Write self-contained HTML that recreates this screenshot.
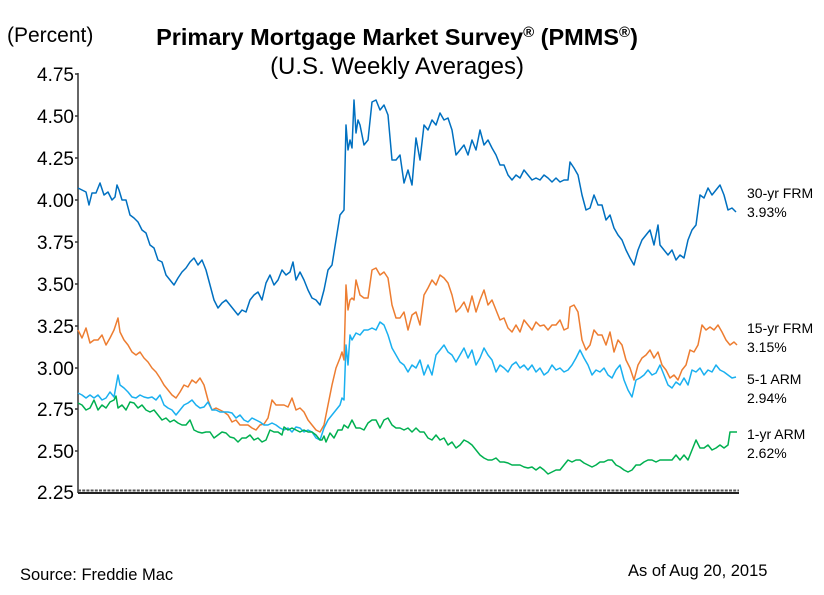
<!DOCTYPE html>
<html><head><meta charset="utf-8"><style>
body{margin:0;background:#fff;}
svg{display:block;font-family:"Liberation Sans",sans-serif;}
</style></head><body>
<svg width="824" height="595" viewBox="0 0 824 595">
<text x="7" y="42" font-size="21">(Percent)</text>
<text x="397" y="45" font-size="23.5" font-weight="bold" text-anchor="middle">Primary Mortgage Market Survey<tspan font-size="15" dy="-8">®</tspan><tspan dy="8"> (PMMS</tspan><tspan font-size="15" dy="-8">®</tspan><tspan dy="8">)</tspan></text>
<text x="397" y="74" font-size="24" text-anchor="middle">(U.S. Weekly Averages)</text>
<g font-size="19" text-anchor="end">
<text x="74" y="81">4.75</text><text x="74" y="123">4.50</text><text x="74" y="165">4.25</text><text x="74" y="207">4.00</text><text x="74" y="249">3.75</text><text x="74" y="291">3.50</text><text x="74" y="333">3.25</text><text x="74" y="375">3.00</text><text x="74" y="416">2.75</text><text x="74" y="458">2.50</text><text x="74" y="499">2.25</text>
</g>
<g stroke="#333" stroke-width="1.5">
<line x1="78" y1="73" x2="78" y2="493"/>
<line x1="75" y1="74" x2="78" y2="74"/><line x1="75" y1="116" x2="78" y2="116"/><line x1="75" y1="158" x2="78" y2="158"/><line x1="75" y1="200" x2="78" y2="200"/><line x1="75" y1="242" x2="78" y2="242"/><line x1="75" y1="284" x2="78" y2="284"/><line x1="75" y1="326" x2="78" y2="326"/><line x1="75" y1="368" x2="78" y2="368"/><line x1="75" y1="409" x2="78" y2="409"/><line x1="75" y1="451" x2="78" y2="451"/>
</g>
<line x1="78" y1="493" x2="739" y2="493" stroke="#222" stroke-width="2"/>
<line x1="78" y1="490.5" x2="739" y2="490.5" stroke="#555" stroke-width="2" stroke-dasharray="3,1.2"/>
<g fill="none" stroke-width="1.5" stroke-linejoin="round">
<polyline stroke="#0070c0" points="78,188 82,190 86,192 89,205 92,193 96,193 100,183 104,195 108,192 112,200 115,197 117,185 119,190 122,200 126,200 130,215 134,218 138,222 142,230 146,233 150,245 154,248 158,260 162,262 166,275 170,280 174,285 178,278 182,272 186,268 190,262 194,258 198,265 202,260 206,270 210,285 214,300 218,308 222,303 226,300 230,305 234,310 238,315 242,310 246,312 250,300 254,295 258,292 262,300 266,283 270,275 274,285 278,280 282,270 286,275 290,272 293,262 296,280 300,272 304,280 308,290 312,298 316,300 320,305 324,290 328,270 332,265 336,240 340,215 344,210 346,125 348,150 350,140 352,148 354,100 356,133 358,120 360,125 364,145 368,140 372,102 376,100 380,110 384,105 388,115 392,160 396,160 400,155 404,183 408,170 412,185 416,138 420,160 424,125 428,130 432,120 436,125 440,113 444,120 448,118 452,130 456,155 460,150 464,145 468,155 472,140 476,150 480,130 484,145 488,140 492,148 496,155 500,165 504,165 508,175 512,180 516,175 520,178 524,170 528,175 532,180 536,178 540,180 544,175 548,178 552,182 556,178 560,182 564,180 568,180 570,162 574,168 578,175 582,195 586,210 590,208 594,195 598,205 602,205 606,220 610,215 614,228 618,235 622,240 626,250 630,258 634,265 638,250 642,240 646,235 650,230 654,245 658,225 660,245 664,250 668,255 672,250 676,260 680,255 684,258 688,240 692,230 696,225 700,195 704,198 708,188 712,195 716,190 720,185 724,195 728,210 732,208 736,212"/>
<polyline stroke="#ed7d31" points="78,330 82,338 86,328 90,343 94,340 98,340 102,335 106,345 110,338 114,330 118,318 120,332 124,340 128,345 132,352 136,355 140,352 144,358 148,362 152,368 156,372 160,378 164,385 168,390 172,395 176,398 180,392 184,385 188,387 192,380 196,383 200,378 204,385 208,400 212,410 216,408 220,410 224,412 228,415 232,422 236,420 240,425 244,425 248,425 252,428 256,430 260,425 264,424 268,418 272,400 276,405 280,405 284,405 288,407 292,398 296,410 300,408 304,412 308,420 312,425 316,430 320,432 324,425 328,405 332,385 336,368 340,358 342,352 344,360 346,285 348,310 350,300 352,298 354,300 356,280 360,295 364,298 368,298 372,270 376,268 380,275 384,272 388,278 392,305 396,318 400,318 404,312 408,330 412,315 416,312 420,325 424,295 428,288 432,280 436,285 440,275 444,278 448,283 452,295 456,312 460,308 464,302 468,312 472,296 476,312 480,300 484,290 488,305 492,300 496,310 500,320 504,318 508,328 512,332 516,325 520,332 524,320 528,325 532,330 536,322 540,326 544,325 548,330 552,325 556,325 560,320 564,330 568,328 570,307 574,305 578,312 582,340 586,350 590,345 594,330 598,335 602,335 606,345 610,332 614,352 618,340 622,345 626,360 630,368 634,380 638,365 642,358 646,355 650,350 654,358 658,352 662,365 666,370 670,378 674,375 678,380 682,370 686,365 690,350 694,352 698,345 702,325 706,330 710,327 714,330 718,325 722,332 726,340 730,345 734,342 737,345"/>
<polyline stroke="#1ab0f0" points="78,393 82,395 86,398 90,395 94,398 98,395 102,400 106,398 110,392 114,397 118,375 120,385 124,388 128,392 132,397 136,398 140,395 144,397 148,398 152,397 156,400 160,395 164,405 168,408 172,410 176,415 180,410 184,405 188,403 192,400 196,405 200,408 204,407 208,402 212,410 216,410 220,412 224,412 228,412 232,413 236,418 240,415 244,420 248,422 252,418 256,420 260,422 264,425 268,425 272,423 276,425 280,428 284,430 288,428 292,432 296,427 300,428 304,432 308,430 312,432 316,438 320,440 324,428 328,420 332,415 336,410 340,405 342,398 344,400 346,345 348,365 350,335 352,340 356,333 360,335 364,330 368,330 372,328 376,330 380,322 384,325 388,335 392,348 396,355 400,362 404,365 408,372 412,365 416,368 420,360 424,375 428,365 432,375 436,355 440,350 444,345 448,352 452,355 456,362 460,355 464,348 468,358 472,350 476,365 480,358 484,348 488,355 492,360 496,372 500,365 504,368 508,372 512,365 516,362 520,368 524,365 528,370 532,365 536,372 540,368 544,375 548,372 552,365 556,370 560,368 564,372 568,370 572,365 576,358 580,350 584,358 588,365 592,375 596,370 600,372 604,368 608,375 612,378 616,370 620,365 624,380 628,390 632,397 636,380 640,378 644,375 648,370 652,375 656,373 660,365 664,375 668,385 672,388 676,382 680,385 684,378 688,385 692,370 696,372 700,368 704,375 708,370 712,372 716,365 720,370 724,372 728,375 732,378 736,377"/>
<polyline stroke="#00b050" points="78,403 82,405 86,410 90,408 94,400 98,410 102,405 106,408 110,402 114,400 116,396 118,408 122,405 126,410 130,402 134,403 138,408 142,405 146,410 150,412 154,410 158,415 162,420 166,418 170,422 174,420 178,423 182,425 186,425 190,420 194,430 198,432 202,433 206,432 210,432 214,438 218,435 222,432 226,433 230,437 234,438 238,442 242,438 246,438 250,435 254,440 258,438 262,442 266,440 270,430 274,432 278,432 282,435 284,427 288,430 292,428 296,430 300,432 304,430 308,432 312,432 316,435 320,440 322,440 324,436 326,442 330,433 334,438 338,430 342,430 344,425 348,428 352,420 356,428 360,428 364,430 368,423 372,420 376,420 380,428 384,420 388,418 392,425 396,428 400,428 404,430 408,428 412,432 416,428 420,432 424,432 428,438 432,440 436,435 440,440 444,438 448,445 452,442 456,448 460,445 464,440 468,442 472,445 476,450 480,455 484,458 488,460 492,460 496,458 500,462 504,462 508,463 512,465 516,465 520,465 524,467 528,468 532,467 536,470 540,467 544,470 548,474 552,472 556,470 560,470 564,465 568,460 572,462 576,460 580,460 584,463 588,465 592,467 596,465 600,462 604,462 608,460 612,460 616,465 620,467 624,470 628,472 632,470 636,465 640,465 644,462 648,460 652,460 656,462 660,460 664,460 668,460 672,460 676,455 680,460 684,455 688,460 692,450 696,440 700,448 704,448 708,445 712,450 716,448 720,445 724,448 728,445 730,432 734,432 737,432"/>
</g>
<g font-size="14">
<text x="747" y="198">30-yr FRM</text><text x="747" y="217">3.93%</text>
<text x="747" y="333">15-yr FRM</text><text x="747" y="352">3.15%</text>
<text x="747" y="384">5-1 ARM</text><text x="747" y="403">2.94%</text>
<text x="747" y="439">1-yr ARM</text><text x="747" y="458">2.62%</text>
</g>
<text x="20" y="580" font-size="16.5">Source: Freddie Mac</text>
<text x="628" y="576" font-size="16.5">As of Aug 20, 2015</text>
</svg>
</body></html>
